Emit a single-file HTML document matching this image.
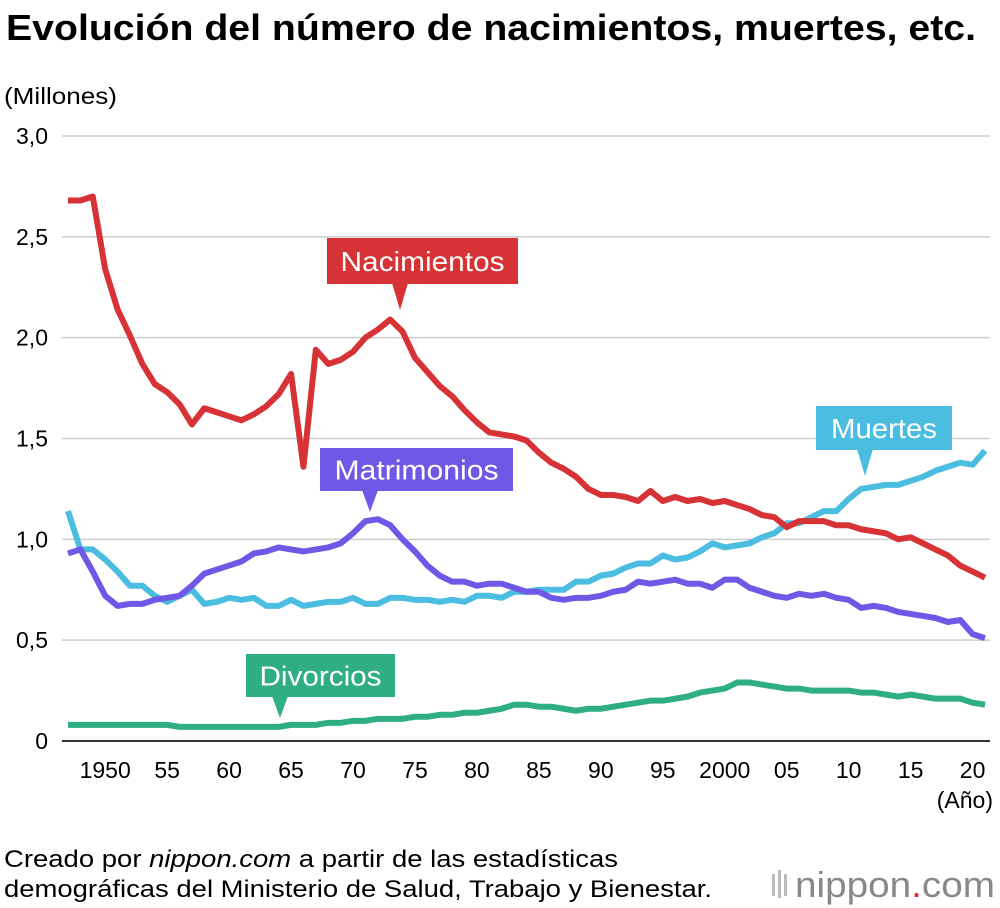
<!DOCTYPE html>
<html><head><meta charset="utf-8">
<style>
body{margin:0;background:#fff;width:1000px;height:908px;overflow:hidden;font-family:"Liberation Sans",Arial,sans-serif;}
svg{display:block}
</style></head>
<body>
<svg width="1000" height="908" viewBox="0 0 1000 908">
<text x="6" y="40" font-size="36" font-weight="bold" fill="#000" textLength="970" lengthAdjust="spacingAndGlyphs">Evolución del número de nacimientos, muertes, etc.</text>
<text x="4" y="104" font-size="23" fill="#000" textLength="113" lengthAdjust="spacingAndGlyphs">(Millones)</text>
<g id="grid"></g>
<g id="lines"></g>
<g id="labels"></g>
<text x="993" y="808" font-size="23" text-anchor="end" fill="#000">(Año)</text>
<text x="4" y="867" font-size="24" fill="#000" textLength="614" lengthAdjust="spacingAndGlyphs">Creado por <tspan font-style="italic">nippon.com</tspan> a partir de las estadísticas</text>
<text x="4" y="897" font-size="24" fill="#000" textLength="708" lengthAdjust="spacingAndGlyphs">demográficas del Ministerio de Salud, Trabajo y Bienestar.</text>
<g>
<rect x="772" y="874" width="3" height="22" fill="#bbb"/><rect x="778" y="870" width="3" height="28" fill="#bbb"/><rect x="784" y="874" width="3" height="22" fill="#bbb"/>
<text x="795" y="897" font-size="36" fill="#888" textLength="200" lengthAdjust="spacingAndGlyphs">nippon<tspan fill="#d63031">.</tspan>com</text>
</g>
</svg>
<script>
const years=[];for(let y=1947;y<=2021;y++)years.push(y);
const births=[2.68,2.68,2.70,2.34,2.14,2.01,1.87,1.77,1.73,1.67,1.57,1.65,1.63,1.61,1.59,1.62,1.66,1.72,1.82,1.36,1.94,1.87,1.89,1.93,2.00,2.04,2.09,2.03,1.90,1.83,1.76,1.71,1.64,1.58,1.53,1.52,1.51,1.49,1.43,1.38,1.35,1.31,1.25,1.22,1.22,1.21,1.19,1.24,1.19,1.21,1.19,1.20,1.18,1.19,1.17,1.15,1.12,1.11,1.06,1.09,1.09,1.09,1.07,1.07,1.05,1.04,1.03,1.00,1.01,0.98,0.95,0.92,0.87,0.84,0.81];
const deaths=[1.14,0.95,0.95,0.90,0.84,0.77,0.77,0.72,0.69,0.72,0.75,0.68,0.69,0.71,0.70,0.71,0.67,0.67,0.70,0.67,0.68,0.69,0.69,0.71,0.68,0.68,0.71,0.71,0.70,0.70,0.69,0.70,0.69,0.72,0.72,0.71,0.74,0.74,0.75,0.75,0.75,0.79,0.79,0.82,0.83,0.86,0.88,0.88,0.92,0.90,0.91,0.94,0.98,0.96,0.97,0.98,1.01,1.03,1.08,1.08,1.11,1.14,1.14,1.20,1.25,1.26,1.27,1.27,1.29,1.31,1.34,1.36,1.38,1.37,1.44];
const marriages=[0.93,0.95,0.84,0.72,0.67,0.68,0.68,0.70,0.71,0.72,0.77,0.83,0.85,0.87,0.89,0.93,0.94,0.96,0.95,0.94,0.95,0.96,0.98,1.03,1.09,1.10,1.07,1.00,0.94,0.87,0.82,0.79,0.79,0.77,0.78,0.78,0.76,0.74,0.74,0.71,0.70,0.71,0.71,0.72,0.74,0.75,0.79,0.78,0.79,0.80,0.78,0.78,0.76,0.80,0.80,0.76,0.74,0.72,0.71,0.73,0.72,0.73,0.71,0.70,0.66,0.67,0.66,0.64,0.63,0.62,0.61,0.59,0.60,0.53,0.51];
const divorces=[0.08,0.08,0.08,0.08,0.08,0.08,0.08,0.08,0.08,0.07,0.07,0.07,0.07,0.07,0.07,0.07,0.07,0.07,0.08,0.08,0.08,0.09,0.09,0.10,0.10,0.11,0.11,0.11,0.12,0.12,0.13,0.13,0.14,0.14,0.15,0.16,0.18,0.18,0.17,0.17,0.16,0.15,0.16,0.16,0.17,0.18,0.19,0.20,0.20,0.21,0.22,0.24,0.25,0.26,0.29,0.29,0.28,0.27,0.26,0.26,0.25,0.25,0.25,0.25,0.24,0.24,0.23,0.22,0.23,0.22,0.21,0.21,0.21,0.19,0.18];
const yTicks=[0,0.5,1.0,1.5,2.0,2.5,3.0];
const yTickLabels=["0","0,5","1,0","1,5","2,0","2,5","3,0"];
const xTicks=[1950,1955,1960,1965,1970,1975,1980,1985,1990,1995,2000,2005,2010,2015,2020];
const xTickLabels=["1950","55","60","65","70","75","80","85","90","95","2000","05","10","15","20"];
const NS="http://www.w3.org/2000/svg";
const X=y=>68+(y-1947)*(985-68)/74;
const Y=v=>741-v*(741-136)/3;
const grid=document.getElementById('grid');
function mk(tag,attrs,parent){const e=document.createElementNS(NS,tag);for(const k in attrs)e.setAttribute(k,attrs[k]);parent.appendChild(e);return e;}
yTicks.forEach((t,i)=>{
  const l=mk('line',{x1:62,x2:990,y1:Y(t),y2:Y(t),stroke:t===0?'#333':'#ccc','stroke-width':t===0?2:1.5},grid);
  
  
  const tx=mk('text',{x:48,y:Y(t)+8,'font-size':23,'text-anchor':'end',fill:'#000'},grid);
  tx.textContent=yTickLabels[i];
  
  
});
xTicks.forEach((t,i)=>{
  const tx=mk('text',{x:X(t),y:778,'font-size':23,'text-anchor':'middle',fill:'#000'},grid);
  tx.textContent=xTickLabels[i];
  
  
});
const lines=document.getElementById('lines');
[[divorces,'#2fae82','divorces-line'],[deaths,'#4bbde0','deaths-line'],[marriages,'#6f58e6','marriages-line'],[births,'#d73236','births-line']].forEach(([d,c,n])=>{
  const p=mk('polyline',{points:d.map((v,i)=>X(years[i])+','+Y(v)).join(' '),fill:'none',stroke:c,'stroke-width':6,'stroke-linejoin':'round'},lines);
  
  
});
const labels=document.getElementById('labels');
[['Nacimientos','#d73236',327,238,191,46,392,400,310,164],['Matrimonios','#6f58e6',320,448,193,43,362,370,512,164],['Muertes','#4bbde0',816,406,136,44,857,865,476,106],['Divorcios','#2fae82',246,654,149,43,272,280,718,122]].forEach(([t,c,x,y,w,h,px,tipx,tipy,tw])=>{
  const g=mk('g',{},labels);
  
  
  mk('rect',{x:x,y:y,width:w,height:h,fill:c},g);
  mk('polygon',{points:`${px},${y+h-1} ${px+16},${y+h-1} ${tipx},${tipy}`,fill:c},g);
  const tx=mk('text',{x:x+w/2,y:y+h/2+10,'font-size':28,'text-anchor':'middle',fill:'#fff',textLength:tw,lengthAdjust:'spacingAndGlyphs'},g);
  tx.textContent=t;
});
</script>
</body></html>
